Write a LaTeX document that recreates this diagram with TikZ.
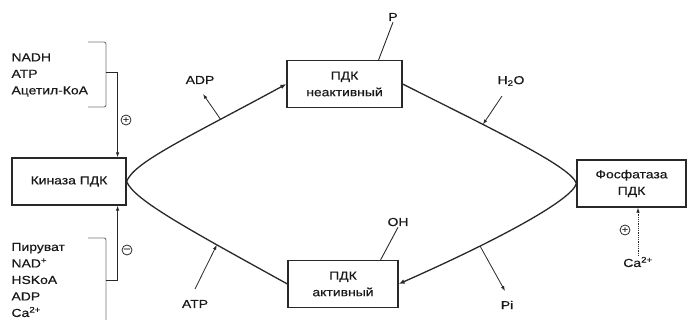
\documentclass[tikz,border=0pt]{standalone}
\usepackage{fontspec}
\setmainfont{Liberation Sans}[FakeStretch=1.2,FakeBold=0.5]
\usetikzlibrary{arrows.meta}
\definecolor{pdkline}{RGB}{40,40,40}
\definecolor{pdkgray}{RGB}{120,120,120}
\definecolor{pdktext}{RGB}{25,25,25}

\begin{document}
\begin{tikzpicture}[x=1pt,y=-1pt,
  font=\fontsize{11.6}{16.5}\selectfont, text=pdktext, >={Latex[length=6pt,width=4.5pt]},
  box/.style={draw=pdkline,line width=1.2pt,fill=white,minimum height=47pt,align=center},
  main/.style={draw=pdkline,line width=1.3pt},
  side/.style={->,draw=pdkline,line width=.8pt,>={Latex[length=5pt,width=3.5pt]}},
  tick/.style={draw=pdkline,line width=.9pt},
  brace/.style={draw=pdkgray,line width=.9pt,rounded corners=2pt},
  reg/.style={->,draw=pdkline,line width=.8pt,>={Latex[length=5pt,width=3.5pt]}},
  sign/.style={circle,draw=pdkline,line width=.8pt,inner sep=0pt,minimum size=10pt,
    font=\fontsize{9}{9}\selectfont},
  lbl/.style={inner sep=1pt}
]
\useasboundingbox (0,0) rectangle (687,320);

% enzymes and the two forms of PDH
\node[box,minimum width=114pt] (kinase) at (69,181.5) {Киназа ПДК};
\node[box,minimum width=115pt] (inact) at (344.5,84) {ПДК\\неактивный};
\node[box,minimum width=110pt] (act) at (343,284) {ПДК\\активный};
\node[box,minimum width=109pt] (phosph) at (631.5,183.5) {Фосфатаза\\ПДК};

% cycle
\draw[main,->] (kinase.east) .. controls (134,162) and (187,138) .. coordinate[pos=.75] (adpc) (inact.west);
\draw[main] (kinase.east) .. controls (134,200) and (188,229) .. coordinate[pos=.73] (atpc) (act.west);
\draw[main] (inact.east) .. controls (502,134) and (571,167) .. coordinate[pos=.3] (h2oc) (phosph.west);
\draw[main,->] (phosph.west) .. controls (572,200) and (498,240) .. coordinate[pos=.7] (pic) (act.east);

% side substrates and products
\node[lbl] (adp) at (200,80) {ADP};
\coordinate (adptip) at (203,94);
\draw[side] (adpc) -- (adptip);
\node[lbl] (atp) at (195,304) {ATP};
\coordinate (atpfoot) at (195,289);
\draw[side] (atpfoot) -- (atpc);
\node[lbl] (h2o) at (511,81) {H\textsubscript{2}O};
\coordinate (h2ofoot) at (502,96);
\draw[side] (h2ofoot) -- (h2oc);
\node[lbl] (pi) at (507,305) {Pi};
\coordinate (pitip) at (505,291);
\draw[side] (pic) -- (pitip);

\node[lbl] (p) at (393,17) {P};
\draw[tick] ([xshift=-24pt]inact.north east) -- (p.south);
\node[lbl] (oh) at (398,222) {OH};
\draw[tick] ([xshift=-18pt]act.north east) -- (oh.south);

% kinase regulators
\node[anchor=west,align=left] (activ) at (8,75) {NADH\\ATP\\Ацетил-КоА};
\draw[brace] (88,42) -- (106,42) -- (106,107) -- (88,107);
\coordinate (topbr) at (106,72);
\draw[reg] (topbr) -| ([xshift=-9pt]kinase.north east);
\node[sign] (plus1) at (126,120) {+};

\node[anchor=west,align=left] (inhib) at (8,280) {Пируват\\NAD\textsuperscript{+}\\HSKoA\\ADP\\Ca\textsuperscript{2+}};
\draw[brace] (88,238) -- (106,238) -- (106,326);
\coordinate (botbr) at (106,280);
\draw[reg] (botbr) -| ([xshift=-9pt]kinase.south east);
\node[sign] (minus1) at (127,250) {--};

% phosphatase activator
\node[lbl] (ca) at (638,262) {Ca\textsuperscript{2+}};
\draw[reg,densely dotted] (ca.north) -- (ca.north |- phosph.south);
\node[sign] (plus2) at (625,230) {+};
\end{tikzpicture}
\end{document}
